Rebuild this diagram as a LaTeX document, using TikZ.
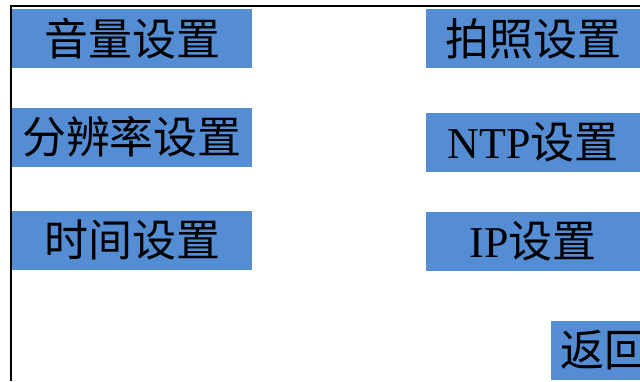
\documentclass[tikz,border=0pt]{standalone}
\usepackage{fontspec}
\setmainfont{Liberation Serif}
\newfontfamily\cjk{Noto Sans CJK SC}
\definecolor{btnblue}{RGB}{84,141,212}
\tikzset{
  btn/.style={fill=btnblue, draw=none, inner sep=0pt, minimum height=59pt,
    font=\fontsize{44}{44}\selectfont, text=black},
  frameline/.style={draw=black, line width=2pt}
}
\begin{document}
\begin{tikzpicture}[x=1pt,y=-1pt]
\useasboundingbox (0,0) rectangle (640,381);
\clip (0,0) rectangle (640,381);
\fill[white] (0,0) rectangle (640,381);
\node[btn, minimum width=240pt] (vol) at (132,38.5) {\cjk 音量设置};
\node[btn, minimum width=240pt] (res) at (132,137) {\cjk 分辨率设置};
\node[btn, minimum width=240pt] (time) at (132,240) {\cjk 时间设置};
\node[btn, minimum width=214pt] (photo) at (533,38.5) {\cjk 拍照设置};
\node[btn, minimum width=214pt] (ntp) at (533,142) {NTP{\cjk 设置}};
\node[btn, minimum width=214pt] (ip) at (533,241) {IP{\cjk 设置}};
\node[btn, minimum width=100pt, anchor=west] (back) at (551,350.5) {\hspace{6pt}\cjk 返回\hspace{6pt}};
\coordinate (tl) at (11,5.5);
\coordinate (tr) at (640,5.5);
\coordinate (bl) at (11,381);
\draw[frameline] (tr) -- (tl) -- (bl);
\end{tikzpicture}
\end{document}
